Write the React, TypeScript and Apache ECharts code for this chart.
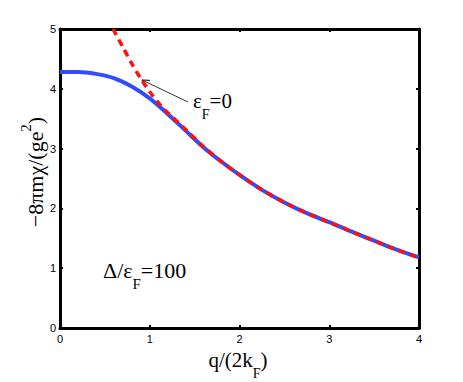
import React, { useEffect, useRef } from "react";
import * as echarts from "echarts";

const qBlue = [0, 0.2, 0.4, 0.6, 0.8, 1.0, 1.2, 1.4, 1.6, 1.8, 2.0, 2.25, 2.5, 2.75, 3.0, 3.25, 3.5, 3.75, 4.0];
const chiBlue = [4.28, 4.28, 4.25, 4.18, 4.04, 3.84, 3.58, 3.3, 3.02, 2.78, 2.56, 2.31, 2.1, 1.92, 1.77, 1.61, 1.46, 1.31, 1.18];
const qRed = [0.59, 0.7, 0.8, 0.9, 1.0, 1.1, 1.2, 1.4, 1.6, 1.8, 2.0, 2.25, 2.5, 2.75, 3.0, 3.25, 3.5, 3.75, 4.0];
const chiRed = [5.0, 4.7, 4.42, 4.17, 3.95, 3.76, 3.6, 3.32, 3.03, 2.78, 2.56, 2.31, 2.1, 1.92, 1.77, 1.61, 1.46, 1.31, 1.18];
const xTicks = [0, 1, 2, 3, 4];
const yTicks = [0, 1, 2, 3, 4, 5];

const SERIF = "Liberation Serif";
const SANS = "Liberation Sans";

const subRich = (size: number, lh: number) => {
  const small = Math.round(size * 0.68);
  return {
    a: { fontSize: size, fontFamily: SERIF, color: "#000", lineHeight: lh },
    s: { fontSize: small, fontFamily: SERIF, color: "#000", lineHeight: small, verticalAlign: "bottom" },
    u: { fontSize: small, fontFamily: SERIF, color: "#000", lineHeight: small, verticalAlign: "top" },
  };
};

function arrowHead(tip: [number, number], tail: [number, number], len: number, ang: number) {
  const dx = tail[0] - tip[0];
  const dy = tail[1] - tip[1];
  const d = Math.hypot(dx, dy);
  const ux = dx / d, uy = dy / d;
  const rot = (a: number): [number, number] => [
    tip[0] + len * (ux * Math.cos(a) - uy * Math.sin(a)),
    tip[1] + len * (ux * Math.sin(a) + uy * Math.cos(a)),
  ];
  return [rot(ang), tip, rot(-ang)];
}

export default function App() {
  const ref = useRef<HTMLDivElement>(null);
  useEffect(() => {
    if (!ref.current) return;
    const chart = echarts.init(ref.current, null, { renderer: "svg" });
    const axisCommon = {
      type: "value" as const,
      splitLine: { show: false },
      axisLine: { show: true, onZero: false, lineStyle: { color: "#000", width: 3 } },
      axisTick: { show: true, inside: true, length: 3, lineStyle: { color: "#000", width: 2 } },
    };
    const tip: [number, number] = [142, 80];
    const tail: [number, number] = [188, 102];
    chart.setOption({
      animation: false,
      backgroundColor: "#fff",
      grid: { left: 60, right: 44, top: 29, bottom: 54 },
      xAxis: [
        {
          ...axisCommon,
          position: "bottom",
          min: xTicks[0],
          max: xTicks[xTicks.length - 1],
          interval: 1,
          axisLabel: { color: "#000", fontSize: 11, fontFamily: SANS, margin: 5 },
        },
        {
          ...axisCommon,
          position: "top",
          min: xTicks[0],
          max: xTicks[xTicks.length - 1],
          interval: 1,
          axisLabel: { show: false },
        },
      ],
      yAxis: [
        {
          ...axisCommon,
          position: "left",
          min: yTicks[0],
          max: yTicks[yTicks.length - 1],
          interval: 1,
          axisLabel: { color: "#000", fontSize: 11, fontFamily: SANS, margin: 4 },
        },
        {
          ...axisCommon,
          position: "right",
          min: yTicks[0],
          max: yTicks[yTicks.length - 1],
          interval: 1,
          axisLabel: { show: false },
        },
      ],
      series: [
        {
          type: "line",
          data: qBlue.map((q, i) => [q, chiBlue[i]]),
          showSymbol: false,
          smooth: 0.3,
          lineStyle: { color: "#2f4dff", width: 4 },
          clip: true,
        },
        {
          type: "line",
          data: qRed.map((q, i) => [q, chiRed[i]]),
          showSymbol: false,
          smooth: 0.3,
          lineStyle: { color: "#ff1010", width: 3.5, type: [7, 5] },
          clip: true,
        },
      ],
      graphic: [
        {
          type: "line",
          shape: { x1: tail[0], y1: tail[1], x2: tip[0], y2: tip[1] },
          style: { stroke: "#000", lineWidth: 0.8 },
        },
        {
          type: "polyline",
          shape: { points: arrowHead(tip, tail, 8, 0.4) },
          style: { stroke: "#000", lineWidth: 1, fill: null },
        },
        {
          type: "text",
          x: 193,
          y: 101,
          style: {
            text: "{a|ε}{s|F}{a|=0}",
            rich: subRich(21, 40),
            align: "left",
            verticalAlign: "middle",
          },
        },
        {
          type: "text",
          x: 103,
          y: 270,
          style: {
            text: "{a|Δ/ε}{s|F}{a|=100}",
            rich: subRich(22, 42),
            align: "left",
            verticalAlign: "middle",
          },
        },
        {
          type: "text",
          x: 238,
          y: 360,
          style: {
            text: "{a|q/(2k}{s|F}{a|)}",
            rich: subRich(21, 40),
            align: "center",
            verticalAlign: "middle",
          },
        },
        {
          type: "text",
          x: 35,
          y: 172,
          rotation: Math.PI / 2,
          style: {
            text: "{a|−8πmχ/(ge}{u|2}{a|)}",
            rich: subRich(22, 34),
            align: "center",
            verticalAlign: "middle",
          },
        },
      ],
    });
    return () => chart.dispose();
  }, []);
  return (
    <div
      ref={ref}
      style={{ position: "fixed", left: 0, top: 0, width: 463, height: 382, background: "#fff" }}
    />
  );
}
